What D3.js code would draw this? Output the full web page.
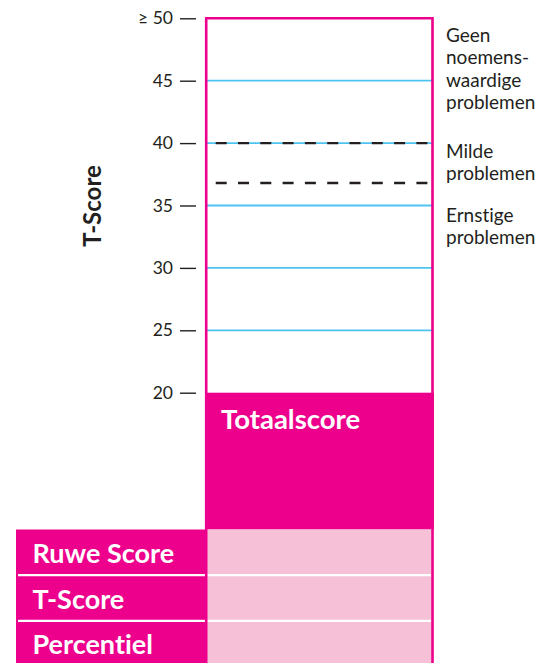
<!DOCTYPE html>
<html>
<head>
<meta charset="utf-8">
<script src="https://cdn.jsdelivr.net/npm/d3@7"></script>
<style>
  html, body { margin: 0; padding: 0; background: #fff; }
  svg { display: block; font-family: Lato, "Open Sans", sans-serif; font-variant-ligatures: none; font-feature-settings: "liga" 0, "clig" 0; }
</style>
</head>
<body>
<svg id="chart" width="538" height="663"></svg>
<script>
// ---- data ----
const tickValues = [50, 45, 40, 35, 30, 25, 20];
const tickLabels = ["≥ 50", "45", "40", "35", "30", "25", "20"];
const gridValues = [45, 40, 35, 30, 25];
const cutoffValues = [40, 36.8];
const zoneLabels = [
  ["Geen", "noemens-", "waardige", "problemen"],
  ["Milde", "problemen"],
  ["Ernstige", "problemen"]
];
const zoneBaselines = [42, 158, 222];
const scaleName = "Totaalscore";
const axisTitle = "T-Score";
const rowLabels = ["Ruwe Score", "T-Score", "Percentiel"];
const rowValues = ["", "", ""];

// ---- styles ----
const MAGENTA = "#ec008c";
const PINK = "#f6c0d7";
const BLUE = "#4fc3f0";
const DARK = "#231f20";

const svg = d3.select("#chart");

const y = d3.scaleLinear().domain([20, 50]).range([392.7, 18.3]);
const boxLeft = 206.2, boxRight = 432.5;

// magenta score column block below 20
svg.append("rect")
  .attr("x", 205).attr("y", y(20))
  .attr("width", 229).attr("height", 529.5 - y(20))
  .attr("fill", MAGENTA);

svg.append("text")
  .attr("x", 221).attr("y", 429)
  .attr("fill", "#fff").attr("font-weight", 700)
  .attr("font-size", 27.5)
  .text(scaleName);

// blue gridlines
svg.append("g").selectAll("line").data(gridValues).join("line")
  .attr("x1", boxLeft).attr("x2", boxRight)
  .attr("y1", d => y(d)).attr("y2", d => y(d))
  .attr("stroke", BLUE).attr("stroke-width", 1.8);

// dashed cutoffs
svg.append("g").selectAll("line").data(cutoffValues).join("line")
  .attr("x1", 215.7).attr("x2", 430)
  .attr("y1", d => y(d)).attr("y2", d => y(d))
  .attr("stroke", DARK).attr("stroke-width", 2.4)
  .attr("stroke-dasharray", "11 11.3");

// table
const rows = d3.scaleBand().domain(rowLabels).range([529.5, 529.5 + 3 * 45.7]);
svg.append("rect")
  .attr("x", 16).attr("y", 529.5).attr("width", 189).attr("height", 663 - 529.5)
  .attr("fill", MAGENTA);
svg.append("g").selectAll("rect").data(rowLabels).join("rect")
  .attr("x", 207).attr("y", d => rows(d))
  .attr("width", 224.5).attr("height", rows.bandwidth())
  .attr("fill", PINK);
svg.append("g").selectAll("line").data(rowLabels.slice(1)).join("line")
  .attr("x1", 18).attr("x2", 431)
  .attr("y1", d => rows(d)).attr("y2", d => rows(d))
  .attr("stroke", "#fff").attr("stroke-width", 2.2);
svg.append("g").selectAll("text").data(rowLabels).join("text")
  .attr("x", 32.5).attr("y", d => rows(d) + 33.5)
  .attr("fill", "#fff").attr("font-weight", 700).attr("font-size", 27)
  .text(d => d);
svg.append("g").selectAll("text").data(rowValues).join("text")
  .attr("x", 319).attr("y", (d, i) => rows(rowLabels[i]) + 33.5)
  .attr("text-anchor", "middle").attr("fill", DARK).attr("font-size", 22)
  .text(d => d);

// box border
svg.append("path")
  .attr("d", `M${boxLeft},670 V${y(50)} H${boxRight} V670`)
  .attr("fill", "none").attr("stroke", MAGENTA).attr("stroke-width", 2.6);

// axis
const axis = d3.axisLeft(y)
  .tickValues(tickValues)
  .tickSize(16).tickPadding(7)
  .tickFormat(d => tickLabels[tickValues.indexOf(d)]);
const gAxis = svg.append("g").attr("transform", "translate(196,0)").call(axis);
gAxis.select(".domain").remove();
gAxis.selectAll(".tick line").attr("stroke", DARK).attr("stroke-width", 1.4);
gAxis.selectAll(".tick text")
  .attr("fill", DARK).attr("font-size", 17.5)
  .attr("font-family", "Lato, 'Open Sans', sans-serif");

// axis title
svg.append("text")
  .attr("transform", "translate(101,206) rotate(-90)")
  .attr("text-anchor", "middle")
  .attr("fill", DARK).attr("font-weight", 700).attr("font-size", 24)
  .text(axisTitle);

// zone labels
const zg = svg.append("g");
zoneLabels.forEach((lines, gi) => {
  const t = zg.append("text")
    .attr("x", 446).attr("y", zoneBaselines[gi])
    .attr("fill", DARK).attr("font-size", 19);
  lines.forEach((l, li) => {
    t.append("tspan").attr("x", 446)
      .attr("dy", li === 0 ? 0 : 22.3)
      .text(l);
  });
});
</script>
</body>
</html>
